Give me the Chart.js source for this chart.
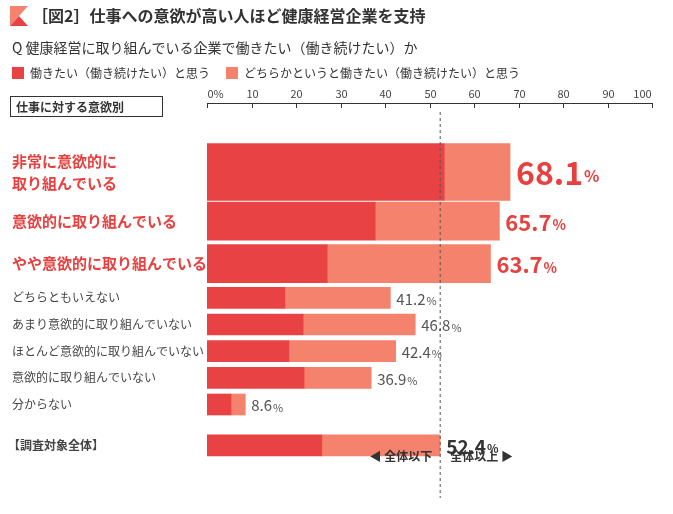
<!DOCTYPE html>
<html><head><meta charset="utf-8">
<script src="https://cdn.jsdelivr.net/npm/chart.js@4"></script>
<style>html,body{margin:0;background:#fff}#wrap{width:673px;height:514px;position:relative}</style>
</head><body><div id="wrap"><canvas id="c"></canvas></div>
<script>
// data
const categories = ['非常に意欲的に\n取り組んでいる','意欲的に取り組んでいる','やや意欲的に取り組んでいる','どちらともいえない','あまり意欲的に取り組んでいない','ほとんど意欲的に取り組んでいない','意欲的に取り組んでいない','分からない','【調査対象全体】'];
const strongly = [53.3, 37.8, 27.0, 17.5, 21.6, 18.4, 21.8, 5.4, 25.8];
const totals = [68.1, 65.7, 63.7, 41.2, 46.8, 42.4, 36.9, 8.6, 52.4];
const somewhat = totals.map((t, i) => +(t - strongly[i]).toFixed(1));
const rowPos = [155, 214, 265, 306, 338, 370, 402, 434, 483];
const rowSize = ['big', 'mid', 'mid', 'small', 'small', 'small', 'small', 'small', 'small'];
const xTicks = [0, 10, 20, 30, 40, 50, 60, 70, 80, 90, 100];

const DARK = '#e84245', LIGHT = '#f4826c', RED = '#e8403f';
const FONT = '"Noto Sans CJK JP", sans-serif';
const thick = { big: 57, mid: 38, small: 21 };

function pts(vals, size) {
  return vals.map((v, i) => ({ x: rowSize[i] === size ? v : null, y: rowPos[i] }));
}
const datasets = [];
['big', 'mid', 'small'].forEach(s => {
  datasets.push({ data: pts(strongly, s), backgroundColor: DARK, barThickness: thick[s], stack: 's' });
  datasets.push({ data: pts(somewhat, s), backgroundColor: LIGHT, barThickness: thick[s], stack: 's' });
});

const deco = {
  id: 'deco',
  afterDatasetsDraw(chart) {
    const c = chart.ctx, xs = chart.scales.x, ys = chart.scales.y;
    c.save();
    c.fillStyle = LIGHT; c.beginPath(); c.moveTo(10, 6); c.lineTo(28, 6); c.lineTo(10, 26); c.fill();
    c.fillStyle = DARK; c.beginPath(); c.moveTo(10, 26); c.lineTo(28, 26); c.lineTo(19, 16); c.fill();
    c.fillStyle = '#333'; c.textBaseline = 'middle';
    c.font = 'bold 16px ' + FONT; c.fillText('［図2］仕事への意欲が高い人ほど健康経営企業を支持', 32, 16);
    c.font = '14px ' + FONT; c.fillText('Q 健康経営に取り組んでいる企業で働きたい（働き続けたい）か', 12, 48);
    c.font = '12px ' + FONT;
    c.fillStyle = DARK; c.fillRect(12, 67, 12, 12);
    c.fillStyle = '#333'; c.fillText('働きたい（働き続けたい）と思う', 30, 73);
    c.fillStyle = LIGHT; c.fillRect(226, 67, 12, 12);
    c.fillStyle = '#333'; c.fillText('どちらかというと働きたい（働き続けたい）と思う', 244, 73);
    c.strokeStyle = '#333'; c.lineWidth = 1; c.strokeRect(10.5, 96.5, 152, 20);
    c.font = 'bold 12px ' + FONT; c.fillText('仕事に対する意欲別', 16, 107);
    c.beginPath(); c.moveTo(xs.left, 103.5); c.lineTo(xs.right, 103.5); c.stroke();
    c.font = '11px ' + FONT; c.fillStyle = '#444';
    xTicks.forEach(t => {
      const px = Math.round(xs.getPixelForValue(t)) + 0.5;
      c.beginPath(); c.moveTo(px, 103); c.lineTo(px, 108); c.stroke();
      c.textAlign = t === 0 ? 'left' : 'center';
      c.fillText(t === 0 ? '0%' : String(t), t === 0 ? px : px + (t === 100 ? -10 : 0), 94);
    });
    const ax = xs.getPixelForValue(totals[8]);
    c.setLineDash([3, 3]); c.strokeStyle = '#555';
    c.beginPath(); c.moveTo(ax, 112); c.lineTo(ax, 498); c.stroke(); c.setLineDash([]);
    c.font = 'bold 12px ' + FONT; c.fillStyle = '#333';
    c.textAlign = 'right'; c.fillText('◀ 全体以下', ax - 8, 456);
    c.textAlign = 'left'; c.fillText('全体以上 ▶', ax + 10, 456);
    categories.forEach((cat, i) => {
      const py = ys.getPixelForValue(rowPos[i]);
      const red = i < 3;
      c.textAlign = 'left';
      c.fillStyle = red ? RED : '#444';
      c.font = (red ? 'bold 15px ' : (i === 8 ? 'bold 12px ' : '12px ')) + FONT;
      const lines = cat.split('\n');
      lines.forEach((l, k) => c.fillText(l, i === 8 ? 8 : 12, py + (k - (lines.length - 1) / 2) * 22));
      const ex = xs.getPixelForValue(totals[i]) + 6;
      const v = totals[i].toFixed(1);
      let f1, f2;
      if (i === 0) { f1 = 'bold 32px '; f2 = 'bold 16px '; c.fillStyle = RED; }
      else if (red) { f1 = 'bold 22px '; f2 = 'bold 14px '; c.fillStyle = RED; }
      else if (i === 8) { f1 = 'bold 19px '; f2 = 'bold 12px '; c.fillStyle = '#333'; }
      else { f1 = '15px '; f2 = '11px '; c.fillStyle = '#555'; }
      c.font = f1 + FONT; c.fillText(v, ex, py + 1);
      const w = c.measureText(v).width;
      c.font = f2 + FONT; c.fillText('%', ex + w + 1, py + (i < 3 ? 4 : 3));
    });
    c.restore();
  }
};

new Chart(document.getElementById('c'), {
  type: 'bar',
  data: { datasets },
  options: {
    indexAxis: 'y',
    responsive: true, maintainAspectRatio: false, animation: false,
    layout: { padding: { left: 207, right: 21, top: 0, bottom: 0 } },
    plugins: { legend: { display: false }, tooltip: { enabled: false } },
    scales: {
      x: { type: 'linear', stacked: true, min: 0, max: 100, display: false },
      y: { type: 'linear', stacked: true, min: 0, max: 514, reverse: true, display: false }
    }
  },
  plugins: [deco]
});
</script></body></html>
